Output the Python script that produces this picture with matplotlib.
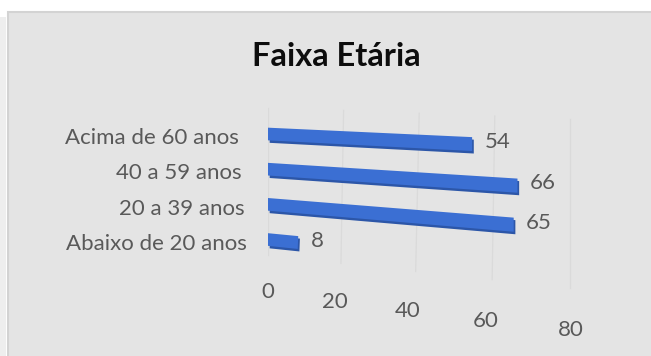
import numpy as np
import matplotlib
matplotlib.use("Agg")
import matplotlib.pyplot as plt
import matplotlib.patheffects as pe
from matplotlib.patches import Rectangle
from matplotlib.transforms import Transform

plt.rcParams['font.family'] = ['Lato', 'DejaVu Sans']

# faixa etaria dos entrevistados (de baixo para cima)
categorias = ["Abaixo de 20 anos", "20 a 39 anos", "40 a 59 anos", "Acima de 60 anos"]
valores = [8, 65, 66, 54]
ticks = [0, 20, 40, 60, 80]

azul = "#3b6fd3"
azul_escuro = "#2c56a8"
cinza = "#595959"


class Inclina(Transform):
    """perspectiva fake: linhas mais baixas caem mais para a direita"""
    input_dims = output_dims = 2

    def __init__(self, k0=0.0053, k1=0.0018, topo=3.0, curva=0.0013, vmax=80):
        super().__init__()
        self.k0, self.k1, self.topo = k0, k1, topo
        self.curva, self.vmax = curva, vmax

    def transform_non_affine(self, xy):
        xy = np.array(xy, dtype=float)
        v, r = xy[:, 0], xy[:, 1]
        out = np.empty_like(xy)
        # piso: encolhe um pouco o eixo x abaixo das barras
        out[:, 0] = v - self.curva * np.clip(-r, 0, None) * v * (self.vmax - v)
        out[:, 1] = r - v * (self.k0 + self.k1 * (self.topo - r))
        return out


fig = plt.figure(figsize=(6.51, 3.56), dpi=100)
fig.patch.set_facecolor("white")

# moldura cinza do grafico
fig.patches.append(Rectangle((8 / 651, -0.02), 1.0, 1 - 12 / 356 + 0.02,
                             transform=fig.transFigure, facecolor="#e4e4e4",
                             edgecolor="#d3d3d3", linewidth=1.5, zorder=-2))
fig.patches.append(Rectangle((0, -0.02), 6 / 651, 1 - 17 / 356 + 0.02,
                             transform=fig.transFigure, facecolor="#eeeeee",
                             edgecolor="none", zorder=-2))

fig.text(336 / 651, 1 - 57 / 356, "Faixa Etária", ha="center", va="center",
         fontsize=23.5, fontweight="bold", color="#0d0d0d")

ax = fig.add_axes([268 / 651, 1 - 316.9 / 356, 378 / 651, 225.1 / 356])
ax.set_xlim(0, 100)
ax.set_ylim(-2.2, 4.2)
ax.axis("off")

tr = Inclina() + ax.transData
rows = np.arange(len(categorias))

# linhas de grade verticais
for t in ticks:
    ax.plot([t, t], [-0.45, 3.75], color="#dadada", lw=0.9, transform=tr, zorder=1)

barras = ax.barh(rows, valores, height=0.36, color=azul, transform=tr, zorder=3)
for b in barras:
    b.set_path_effects([pe.SimplePatchShadow(offset=(1.2, -1.8), shadow_rgbFace=azul_escuro, alpha=1.0),
                        pe.Normal()])

for r, (cat, val) in enumerate(zip(categorias, valores)):
    ax.text(-7.6 + 0.7 * (3 - r), r - 0.12, cat, ha="right", va="center",
            fontsize=16, color=cinza, transform=ax.transData)
    ax.text(val + 3.3, r + 0.08, str(val), ha="left", va="center",
            fontsize=16, color=cinza, transform=tr)

for t in ticks:
    ax.text(t, -1.5, str(t), ha="center", va="center", fontsize=16,
            color=cinza, transform=tr)

fig.savefig("out.png", dpi=100)
